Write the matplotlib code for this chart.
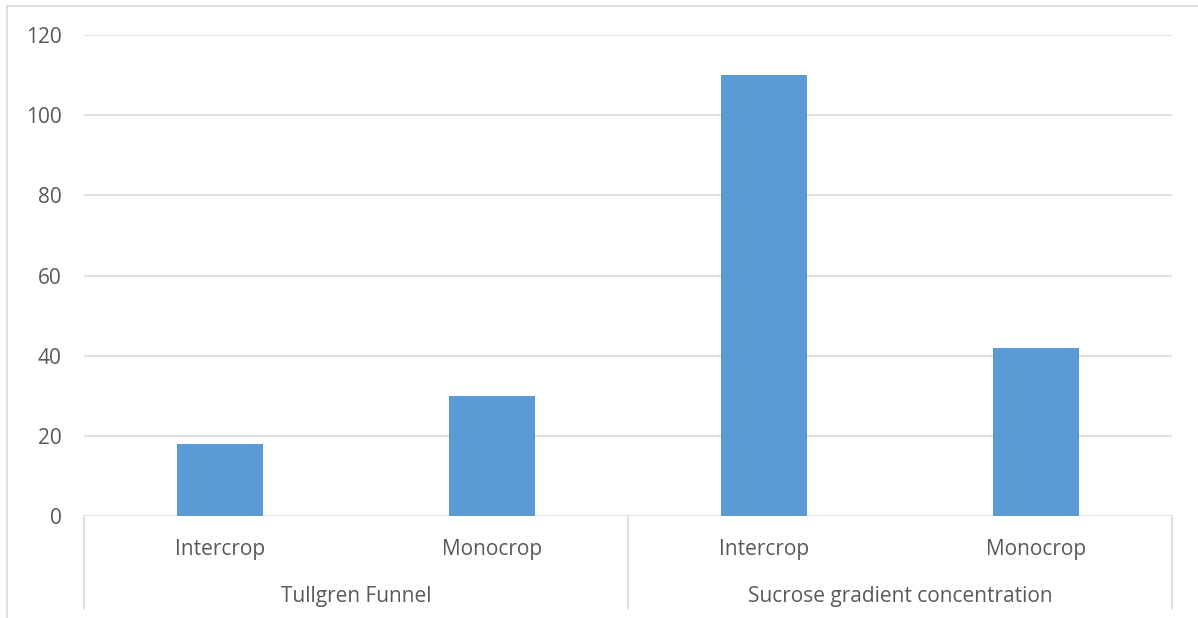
import matplotlib.pyplot as plt
from matplotlib.lines import Line2D

# counts per extraction method and cropping system
methods = ["Tullgren Funnel", "Sucrose gradient concentration"]
systems = ["Intercrop", "Monocrop"]
values = [18, 30, 110, 42]
yticks = [0, 20, 40, 60, 80, 100, 120]

bar_color = "#5b9bd5"
grid_color = "#d9d9d9"
text_color = "#595959"
fs = 15

plt.rcParams['font.family'] = ['Open Sans', 'DejaVu Sans']

W, H = 1198, 618
fig = plt.figure(figsize=(W / 100, H / 100), dpi=100)
ax = fig.add_axes([84 / W, 1 - 516 / H, (1172 - 84) / W, (516 - 35) / H])

x = list(range(len(values)))
ax.bar(x, values, width=0.316, color=bar_color, zorder=3)

ax.set_xlim(-0.5, len(values) - 0.5)
ax.set_ylim(0, 120)
ax.set_yticks(yticks)
ax.set_yticklabels([str(t) for t in yticks], fontsize=fs, color=text_color)
ax.tick_params(axis='y', length=0, pad=16)
ax.set_xticks([])
ax.yaxis.grid(True, color=grid_color, linewidth=1.1, zorder=0)
for s in ax.spines.values():
    s.set_visible(False)

# two-level category axis below the plot
trans = ax.get_xaxis_transform()
span = 516 - 35
y_row1 = -(555 - 516) / span
y_row2 = -(602 - 516) / span
y_end = -(609 - 516) / span
for i, v in enumerate(values):
    ax.text(i, y_row1, systems[i % len(systems)], transform=trans,
            ha='center', va='baseline', fontsize=fs, color=text_color)
for j, m in enumerate(methods):
    center = j * len(systems) + (len(systems) - 1) / 2
    ax.text(center, y_row2, m, transform=trans,
            ha='center', va='baseline', fontsize=fs, color=text_color)
for b in range(len(methods) + 1):
    xb = b * len(systems) - 0.5
    ax.plot([xb, xb], [0, y_end], transform=trans, color=grid_color,
            linewidth=1.1, clip_on=False)

# chart area border (top and left edges)
fig.add_artist(Line2D([7 / W, 1], [1 - 6 / H, 1 - 6 / H], color=grid_color,
                      linewidth=1.1, transform=fig.transFigure))
fig.add_artist(Line2D([7 / W, 7 / W], [1 - 6 / H, 0], color=grid_color,
                      linewidth=1.1, transform=fig.transFigure))

fig.savefig("out.png", dpi=100)
